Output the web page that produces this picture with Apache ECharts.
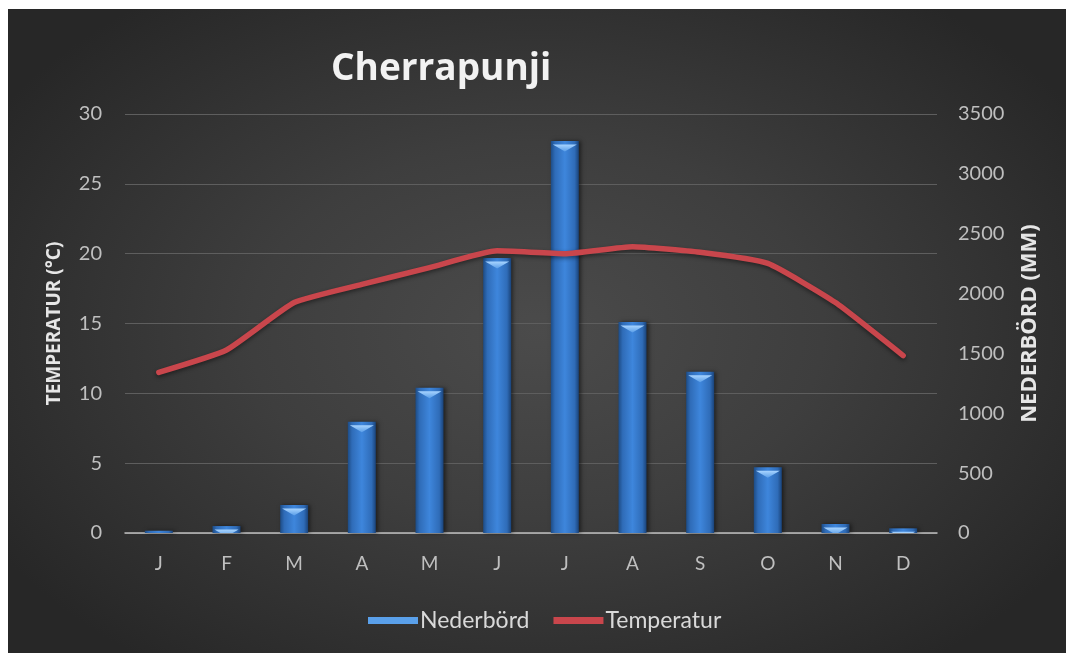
<!DOCTYPE html>
<html>
<head>
<meta charset="utf-8">
<script src="https://cdn.jsdelivr.net/npm/echarts@6/dist/echarts.min.js"></script>
<style>
html,body{margin:0;padding:0;background:#ffffff;width:1066px;height:653px;overflow:hidden;}
#bg{position:absolute;left:8px;top:9px;width:1058px;height:644px;
background:radial-gradient(ellipse 60% 65% at 50% 50%, #4b4b4b 0%, #3e3e3e 45%, #272727 100%);}
#chart{position:absolute;left:0;top:0;width:1066px;height:653px;}
</style>
</head>
<body>
<div id="bg"></div>
<div id="chart"></div>
<script>
var months = ['J','F','M','A','M','J','J','A','S','O','N','D'];
var precipitation = [19, 58, 234, 930, 1214, 2297, 3275, 1763, 1347, 549, 75, 39];
var temperature = [11.5, 13.1, 16.5, 17.8, 19.0, 20.2, 20.0, 20.5, 20.1, 19.3, 16.5, 12.7];
var tempTicks = [0, 30, 5];
var precTicks = [0, 3500, 500];

var chart = echarts.init(document.getElementById('chart'), null, {renderer:'canvas'});
var labelFont = 'Lato, "Open Sans", sans-serif';
chart.setOption({
  backgroundColor: 'transparent',
  animation: false,
  title: {
    text: 'Cherrapunji',
    left: 326, top: 46,
    textStyle: {color:'#f2f2f2', fontSize: 37, fontWeight:'bold', fontFamily:'"Open Sans", sans-serif'}
  },
  grid: {left:125, right:129, top:114, bottom:120, containLabel:false},
  legend: {
    top: 604, left: 363,
    itemGap: 24, itemWidth: 50, itemHeight: 7,
    textStyle: {color:'#d9d9d9', fontSize: 23, fontFamily: labelFont, padding:[0,0,0,-3]},
    data: [
      {name:'Nederbörd', icon:'rect', itemStyle:{color:'#5aa0ea'}},
      {name:'Temperatur', icon:'rect', itemStyle:{color:'#c9464c'}}
    ]
  },
  xAxis: {
    type:'category', data: months,
    axisLine:{lineStyle:{color:'#bfbfbf', width:1.5}},
    axisTick:{show:false},
    axisLabel:{color:'#bfbfbf', fontSize:19, margin:21, fontFamily: labelFont}
  },
  yAxis: [
    {
      type:'value', min: tempTicks[0], max: tempTicks[1], interval: tempTicks[2],
      name:'TEMPERATUR (°C)', nameLocation:'middle', nameGap:61, nameRotate:90,
      nameTextStyle:{color:'#e6e6e6', fontSize:19, fontWeight:'bold', fontFamily:'"Open Sans", sans-serif'},
      axisLine:{show:false}, axisTick:{show:false},
      axisLabel:{color:'#bfbfbf', fontSize:20, margin:23, fontFamily: labelFont},
      splitLine:{lineStyle:{color:'#5e5e5e', width:1}}
    },
    {
      type:'value', min: precTicks[0], max: precTicks[1], interval: precTicks[2],
      name:'NEDERBÖRD (MM)', nameLocation:'middle', nameGap:82, nameRotate:90,
      nameTextStyle:{color:'#e6e6e6', fontSize:22, fontWeight:'bold', fontFamily:'"Open Sans", sans-serif'},
      axisLine:{show:false}, axisTick:{show:false},
      axisLabel:{color:'#bfbfbf', fontSize:20, margin:21, fontFamily: labelFont,
        formatter: function(v){ return String(v); }},
      splitLine:{show:false}
    }
  ],
  series: [
    {
      name:'Nederbörd', type:'bar', yAxisIndex:1, data: precipitation,
      barWidth: 28,
      itemStyle:{
        color: new echarts.graphic.LinearGradient(0,0,1,0,[
          {offset:0, color:'#1d4c86'},
          {offset:0.15, color:'#2f6cb8'},
          {offset:0.5, color:'#3e86dc'},
          {offset:0.85, color:'#2f6cb8'},
          {offset:1, color:'#1a4379'}
        ]),
        shadowColor:'rgba(0,0,0,0.5)', shadowBlur:4, shadowOffsetX:2
      }
    },
    {
      name:'Nederbörd', type:'pictorialBar', yAxisIndex:1, data: precipitation,
      symbol:'path://M0,0 L10,0 L5,4 Z', symbolSize:[24,7],
      symbolPosition:'end', symbolOffset:[0,'50%'], barGap:'-100%',
      symbolClip:true,
      itemStyle:{color: new echarts.graphic.LinearGradient(0,0,0,1,[
        {offset:0, color:'#a8d4ff'}, {offset:1, color:'#5a9ee8'}])},
      z: 3, silent:true, legendHoverLink:false
    },
    {
      name:'Temperatur', type:'line', yAxisIndex:0, data: temperature,
      showSymbol:false, symbol:'none', smooth:0.15,
      lineStyle:{color:'#c9464c', width:5.5, cap:'round', join:'round',
        shadowColor:'rgba(0,0,0,0.45)', shadowBlur:4, shadowOffsetY:2},
      itemStyle:{color:'#c9464c'},
      z: 5
    }
  ]
});
</script>
</body>
</html>
